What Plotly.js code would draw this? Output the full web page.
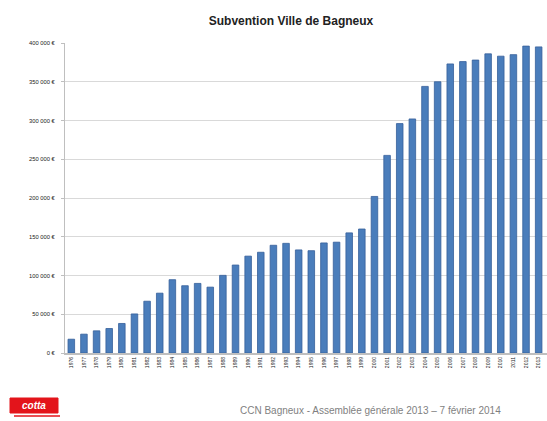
<!DOCTYPE html>
<html>
<head>
<meta charset="utf-8">
<script src="https://cdn.plot.ly/plotly-3.0.1.min.js"></script>
<style>
html,body{margin:0;padding:0;background:#fff;overflow:hidden;}
#chart{width:547px;height:421px;}
</style>
</head>
<body>
<div id="chart"></div>
<script>
var years = ["1976","1977","1978","1979","1980","1981","1982","1983","1984","1985","1986","1987","1988","1989","1990","1991","1992","1993","1994","1995","1996","1997","1998","1999","2000","2001","2002","2003","2004","2005","2006","2007","2008","2009","2010","2011","2012","2013"];
var subvention = [17800, 24300, 28600, 31600, 38100, 50400, 66800, 77200, 94600, 86800, 89800, 85000, 100200, 113500, 125000, 130000, 139000, 141500, 133000, 132000, 142000, 143000, 155000, 160000, 202000, 255000, 296000, 302000, 344000, 350000, 373000, 376000, 378000, 386000, 383000, 385000, 396000, 395000];
var yTickVals = [0, 50000, 100000, 150000, 200000, 250000, 300000, 350000, 400000];
var yTickText = ["0 €", "50 000 €", "100 000 €", "150 000 €", "200 000 €", "250 000 €", "300 000 €", "350 000 €", "400 000 €"];
var chartTitle = "Subvention Ville de Bagneux";
var footer = "CCN Bagneux - Assemblée générale 2013 – 7 février 2014";

var trace = {
  type: "bar",
  x: years,
  y: subvention,
  marker: {color: "#4a7dbb", line: {color: "#36609a", width: 0.8}},
  hoverinfo: "x+y"
};

var layout = {
  width: 547,
  height: 421,
  margin: {l: 65, r: 0, t: 43, b: 68, pad: 0},
  paper_bgcolor: "#ffffff",
  plot_bgcolor: "#ffffff",
  bargap: 0.48,
  showlegend: false,
  font: {family: "Liberation Sans, Arial, sans-serif", color: "#333"},
  title: {
    text: "<b>" + chartTitle + "</b>",
    font: {size: 12, color: "#222", family: "Liberation Sans, Arial, sans-serif"},
    x: 0.532, xref: "container", xanchor: "center",
    y: 0.951, yref: "container", yanchor: "middle"
  },
  xaxis: {
    type: "category",
    range: [-0.5, 37.66],
    tickangle: -90,
    tickfont: {size: 5, color: "#222"},
    showline: true, linecolor: "#bfbfbf", linewidth: 2,
    ticks: "", showgrid: false, fixedrange: true
  },
  yaxis: {
    range: [0, 400000],
    tickvals: yTickVals,
    ticktext: yTickText,
    tickfont: {size: 5.8, color: "#222"},
    ticklabelstandoff: 5,
    showline: true, linecolor: "#bfbfbf", linewidth: 1,
    ticks: "outside", ticklen: 3, tickcolor: "#bfbfbf",
    showgrid: true, gridcolor: "#d9d9d9", gridwidth: 1,
    zeroline: false, fixedrange: true
  },
  shapes: [
    {type: "rect", xref: "paper", yref: "paper",
     x0: (10 - 65) / 482, x1: (58 - 65) / 482,
     y0: (353 - 413) / 310, y1: (353 - 398) / 310,
     fillcolor: "#e3141b", line: {color: "#e3141b", width: 1}},
    {type: "line", xref: "paper", yref: "paper",
     x0: (14 - 65) / 482, x1: (60 - 65) / 482,
     y0: (353 - 416) / 310, y1: (353 - 416) / 310,
     line: {color: "#e3141b", width: 1.5}}
  ],
  annotations: [
    {xref: "paper", yref: "paper", x: (370 - 65) / 482, y: (353 - 410) / 310,
     text: footer, showarrow: false, xanchor: "center", yanchor: "middle",
     font: {size: 10, color: "#7f7f7f"}},
    {xref: "paper", yref: "paper", x: (34 - 65) / 482, y: (353 - 405.5) / 310,
     text: "<b><i>cotta</i></b>", showarrow: false, xanchor: "center", yanchor: "middle",
     font: {size: 10, color: "#ffffff"}}
  ]
};

Plotly.newPlot("chart", [trace], layout, {displayModeBar: false, staticPlot: true});
</script>
</body>
</html>
